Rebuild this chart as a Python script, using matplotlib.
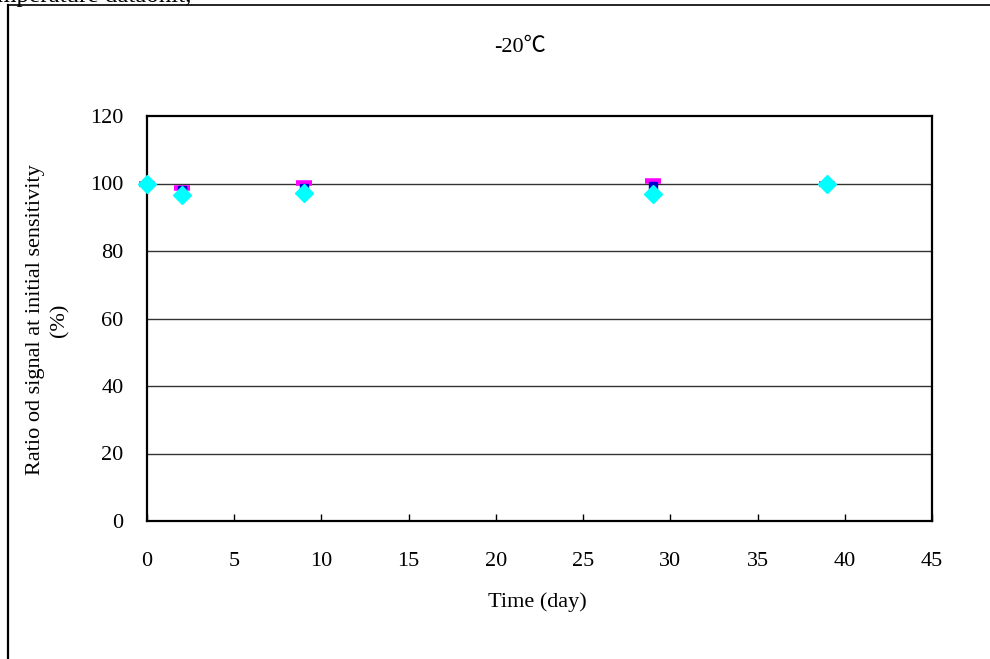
import matplotlib
matplotlib.use("Agg")
import matplotlib.pyplot as plt
from matplotlib.lines import Line2D

days = [0, 2, 9, 29, 39]
series_magenta = [100.0, 98.8, 100.2, 100.8, 100.0]
series_blue = [100.0, 98.0, 98.8, 99.4, 100.0]
series_cyan = [100.0, 96.7, 97.1, 96.9, 100.0]
x_ticks = [0, 5, 10, 15, 20, 25, 30, 35, 40, 45]
y_ticks = [0, 20, 40, 60, 80, 100, 120]

plt.rcParams['font.family'] = ['Liberation Serif', 'DejaVu Serif']

W, H = 990, 659
fig = plt.figure(figsize=(W / 100, H / 100), dpi=100)
ax = fig.add_axes([147 / W, 1 - 521 / H, (932 - 147) / W, (521 - 116) / H])

FS = 16
ax.set_xlim(0, 45)
ax.set_ylim(0, 120)
ax.set_xticks(x_ticks)
ax.set_yticks(y_ticks)
ax.tick_params(axis='x', direction='in', length=5, width=1, pad=22, labelsize=FS)
ax.tick_params(axis='y', length=0, pad=17, labelsize=FS)
for y in y_ticks[1:-1]:
    ax.axhline(y, color='#333333', lw=1.0, zorder=1)
for s in ax.spines.values():
    s.set_linewidth(1.6)
    s.set_color('black')

ax.plot(days, series_magenta, linestyle='none', marker='_', markersize=12,
        markeredgewidth=4, color='#FF00FF', zorder=3, clip_on=False)
ax.plot(days, series_blue, linestyle='none', marker='s', markersize=6,
        color='#0000CC', zorder=4, clip_on=False)
ax.plot(days, series_cyan, linestyle='none', marker='D', markersize=9,
        color='#00FFFF', markeredgecolor='#00FFFF', zorder=5, clip_on=False)

fig.text(520 / W, 1 - 47 / H, '-20℃', ha='center', va='center', fontsize=FS,
         family=['Liberation Serif', 'Noto Sans CJK SC', 'DejaVu Sans'])
fig.text(537 / W, 1 - 602 / H, 'Time (day)', ha='center', va='center', fontsize=FS)
fig.text(48 / W, 1 - 320 / H, 'Ratio od signal at initial sensitivity\n(%)',
         ha='center', va='center', rotation=90, fontsize=FS, linespacing=1.35)

# outer frame and clipped heading text
fig.add_artist(Line2D([8 / W, 8 / W], [0, 1 - 5 / H], color='black', lw=1.6,
                      transform=fig.transFigure))
fig.add_artist(Line2D([8 / W, 1], [1 - 5 / H, 1 - 5 / H], color='black', lw=1.2,
                      transform=fig.transFigure))
fig.text(-3 / W, 1 - 2 / H, 'mperature dataonit,', ha='left', va='baseline', fontsize=18)

fig.savefig('out.png', dpi=100)
